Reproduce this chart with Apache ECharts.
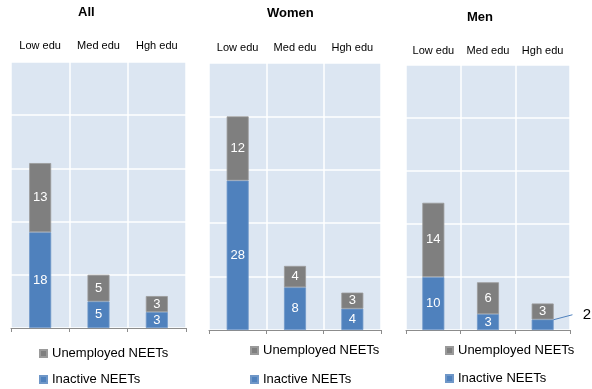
<!DOCTYPE html>
<html>
<head>
<meta charset="utf-8">
<script src="https://cdn.jsdelivr.net/npm/echarts@6/dist/echarts.min.js"></script>
<style>
  html, body { margin: 0; padding: 0; background: #ffffff; }
  #chart { width: 592px; height: 389px; }
</style>
</head>
<body>
<div id="chart"></div>
<script>
// NEET rates by education level, split into inactive and unemployed
const categories = ['Low edu', 'Med edu', 'Hgh edu'];
const panelTitles = ['All', 'Women', 'Men'];
const seriesNames = ['Inactive NEETs', 'Unemployed NEETs'];

const inactiveAll = [18, 5, 3];
const unemployedAll = [13, 5, 3];
const inactiveWomen = [28, 8, 4];
const unemployedWomen = [12, 4, 3];
const inactiveMen = [10, 3, 2];
const unemployedMen = [14, 6, 3];

const yMax = 50;
const yInterval = 10;

const BLUE = '#4f81bd';
const GREY = '#7f7f7f';
const FONT = '"Liberation Sans", Arial, sans-serif';

const panelData = [
  [inactiveAll, unemployedAll],
  [inactiveWomen, unemployedWomen],
  [inactiveMen, unemployedMen]
];

// layout of the three panels
const grids = [
  { left: 11, top: 62, width: 175, height: 266 },
  { left: 209, top: 63, width: 172, height: 267 },
  { left: 406, top: 65, width: 164, height: 265 }
];
const labelMargins = [11, 10, 9];
const titlePos = [
  { left: 78, top: 6 },
  { left: 267, top: 7 },
  { left: 467, top: 11 }
];
const legendPos = [
  { left: 39, top: 347, itemGap: 13 },
  { left: 250, top: 344, itemGap: 16 },
  { left: 445, top: 344, itemGap: 15 }
];

const option = {
  animation: false,
  title: panelTitles.map((t, i) => ({
    text: t,
    left: titlePos[i].left,
    top: titlePos[i].top,
    padding: 0,
    textStyle: { fontFamily: FONT, fontSize: 13, fontWeight: 'bold', color: '#000' }
  })),
  legend: legendPos.map((p, i) => ({
    orient: 'vertical',
    left: p.left,
    top: p.top,
    padding: 0,
    itemGap: p.itemGap,
    itemWidth: 7,
    itemHeight: 7,
    icon: 'rect',
    selectedMode: false,
    data: ['Unemployed NEETs', 'Inactive NEETs'],
    textStyle: { fontFamily: FONT, fontSize: 13, color: '#000' }
  })),
  grid: grids.map(g => ({
    left: g.left, top: g.top, width: g.width, height: g.height,
    show: true, backgroundColor: '#dce6f2', borderWidth: 0
  })),
  xAxis: [],
  yAxis: [],
  series: []
};

grids.forEach((g, i) => {
  // bottom axis: baseline, ticks and vertical separators
  option.xAxis.push({
    type: 'category',
    gridIndex: i,
    position: 'bottom',
    data: categories,
    axisLine: { show: true, lineStyle: { color: '#8c8c8c', width: 1 } },
    axisTick: { show: true, interval: 0, length: 4, lineStyle: { color: '#8c8c8c' } },
    axisLabel: { show: false },
    splitLine: { show: true, interval: 0, lineStyle: { color: '#ffffff', width: 1.5 } }
  });
  // top axis: category names only
  option.xAxis.push({
    type: 'category',
    gridIndex: i,
    position: 'top',
    data: categories,
    axisLine: { show: false },
    axisTick: { show: false },
    axisLabel: {
      show: true, interval: 0, hideOverlap: false, margin: labelMargins[i],
      fontFamily: FONT, fontSize: 11, color: '#000'
    },
    splitLine: { show: false }
  });
  option.yAxis.push({
    type: 'value',
    gridIndex: i,
    min: 0,
    max: yMax,
    interval: yInterval,
    axisLine: { show: false },
    axisTick: { show: false },
    axisLabel: { show: false },
    splitLine: { show: true, lineStyle: { color: '#ffffff', width: 1.5 } }
  });

  const [inactive, unemployed] = panelData[i];
  const isMen = i === 2;

  option.series.push({
    name: seriesNames[0],
    type: 'bar',
    stack: 'neet' + i,
    xAxisIndex: i * 2,
    yAxisIndex: i,
    barWidth: 22,
    itemStyle: { color: BLUE, borderColor: '#6f97c8', borderWidth: 0.8 },
    label: {
      show: true, position: 'inside', color: '#fff',
      fontFamily: FONT, fontSize: 13
    },
    labelLine: { show: true, lineStyle: { color: BLUE, width: 1 }, length2: 0 },
    labelLayout: isMen ? (p => p.dataIndex === 2 ? { dx: 16, dy: -10 } : {}) : undefined,
    data: inactive.map((v, k) => {
      if (isMen && k === 2) {
        return {
          value: v,
          label: {
            position: 'right', distance: 3, color: '#000', fontSize: 15,
            backgroundColor: '#fff', padding: [8, 6, 6, 10]
          },
          labelLine: { show: true }
        };
      }
      return v;
    })
  });
  option.series.push({
    name: seriesNames[1],
    type: 'bar',
    stack: 'neet' + i,
    xAxisIndex: i * 2,
    yAxisIndex: i,
    barWidth: 22,
    itemStyle: { color: GREY, borderColor: '#9a9a9a', borderWidth: 0.8 },
    label: {
      show: true, position: 'inside', color: '#fff',
      fontFamily: FONT, fontSize: 13
    },
    data: unemployed
  });
});

const chart = echarts.init(document.getElementById('chart'), null, { renderer: 'canvas' });
chart.setOption(option);
</script>
</body>
</html>
